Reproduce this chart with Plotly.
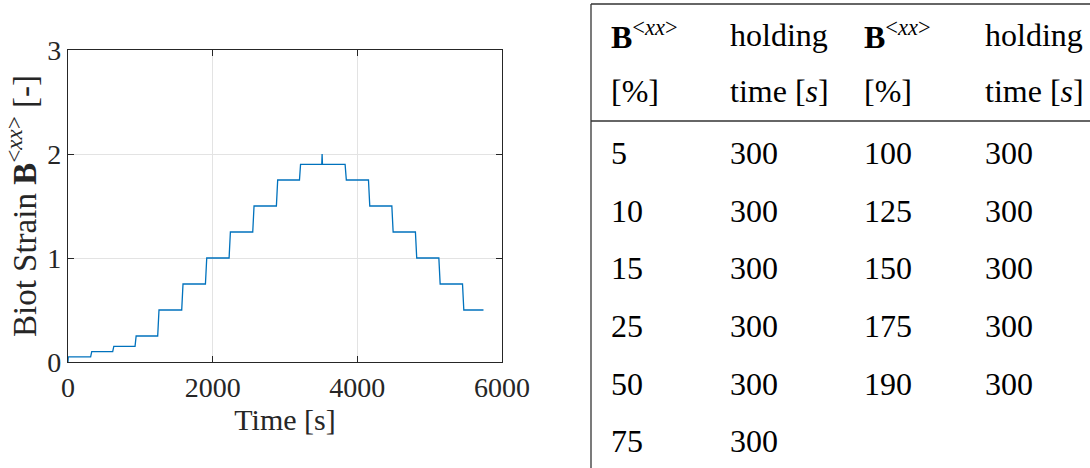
import plotly.graph_objects as go

# Loading protocol: Biot strain levels held between ramps (read from the test record)
hold_start = [0, 328, 633, 942, 1258, 1590, 1918, 2245, 2572, 2899, 3215, 3513, 3518,
              3848, 4172, 4495, 4821, 5145, 5472]
hold_end = [313, 618, 927, 1240, 1572, 1900, 2227, 2554, 2881, 3200, 3508, 3513, 3831,
            4154, 4477, 4803, 5127, 5454, 5744]
hold_strain = [0.05, 0.10, 0.15, 0.25, 0.50, 0.75, 1.00, 1.25, 1.50, 1.75, 1.90, 2.00, 1.90,
               1.75, 1.50, 1.25, 1.00, 0.75, 0.50]
start_strain = 0.0

# Table of target strain levels and holding times
table_b_left = ["5", "10", "15", "25", "50", "75"]
table_t_left = ["300", "300", "300", "300", "300", "300"]
table_b_right = ["100", "125", "150", "175", "190"]
table_t_right = ["300", "300", "300", "300", "300"]

W, H = 1090, 468
FONT = "Liberation Serif"
AX = "#262626"

# Build the step profile: each hold is a flat segment, ramps connect them
t, b = [0], [start_strain]
for s, e, v in zip(hold_start, hold_end, hold_strain):
    t += [s + 4 if s == 0 else s, e]
    b += [v, v]

fig = go.Figure()
fig.add_trace(go.Scatter(x=t, y=b, mode="lines",
                         line=dict(color="#0072BD", width=1.3),
                         showlegend=False, hoverinfo="skip"))

def px(x):
    return x / W

def py(y):
    return 1 - y / H

axis_common = dict(
    showline=True, linecolor=AX, linewidth=1.2, mirror="ticks",
    ticks="inside", ticklen=6, tickcolor=AX, tickwidth=1,
    showgrid=True, gridcolor="#e3e3e3", gridwidth=1, zeroline=False,
    tickfont=dict(family=FONT, size=28, color=AX),
    automargin=False,
)

fig.update_layout(
    width=W, height=H,
    margin=dict(l=0, r=0, t=0, b=0),
    paper_bgcolor="white", plot_bgcolor="white",
    xaxis=dict(domain=[px(68), px(502)], range=[0, 6000],
               tickvals=[0, 2000, 4000, 6000],
               title=dict(text="Time [s]", font=dict(family=FONT, size=30, color=AX),
                          standoff=5),
               **axis_common),
    yaxis=dict(domain=[py(362), py(50)], range=[0, 3],
               tickvals=[0, 1, 2, 3],
               title=dict(text="Biot Strain <b>B</b><sup>&lt;<i>xx</i>&gt;</sup> [-]",
                          font=dict(family=FONT, size=33, color=AX),
                          standoff=0),
               **axis_common),
)

# Table frame
line_style = dict(color="#333333", width=1.3)
fig.add_shape(type="line", xref="paper", yref="paper",
              x0=px(591), x1=px(591), y0=py(4), y1=py(H), line=line_style)
fig.add_shape(type="line", xref="paper", yref="paper",
              x0=px(591), x1=px(W), y0=py(4), y1=py(4), line=line_style)
fig.add_shape(type="line", xref="paper", yref="paper",
              x0=px(591), x1=px(W), y0=py(121), y1=py(121), line=line_style)

col_x = [609, 728, 862, 983]
TFS = 32

def cell(x, y, text):
    fig.add_annotation(x=px(x), y=py(y), xref="paper", yref="paper",
                       xanchor="left", yanchor="middle", showarrow=False,
                       text=text, font=dict(family=FONT, size=TFS, color="black"))

head1 = "<b>B</b><sup>&lt;<i>xx</i>&gt;</sup>"
for i, txt in enumerate([head1, "holding", head1, "holding"]):
    cell(col_x[i], 35, txt)
for i, txt in enumerate(["[%]", "time [<i>s</i>]", "[%]", "time [<i>s</i>]"]):
    cell(col_x[i], 91, txt)

row_y = [153, 211, 268, 326, 384, 441]
for i, (bv, tv) in enumerate(zip(table_b_left, table_t_left)):
    cell(col_x[0], row_y[i], bv)
    cell(col_x[1], row_y[i], tv)
for i, (bv, tv) in enumerate(zip(table_b_right, table_t_right)):
    cell(col_x[2], row_y[i], bv)
    cell(col_x[3], row_y[i], tv)

fig.write_html("out.html")
